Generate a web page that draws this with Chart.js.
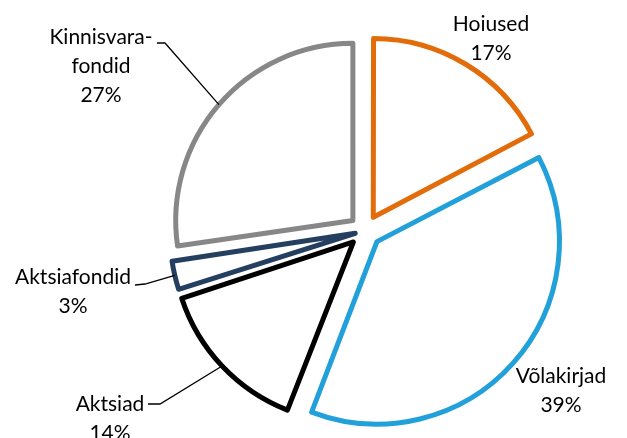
<!DOCTYPE html>
<html>
<head>
<meta charset="utf-8">
<script src="https://cdn.jsdelivr.net/npm/chart.js@4.4.0/dist/chart.umd.min.js"></script>
<style>
  html, body { margin: 0; padding: 0; background: #fff; }
</style>
</head>
<body>
<canvas id="pie" width="627" height="438"></canvas>
<script>
/* Data */
const categories = ['Hoiused', 'Võlakirjad', 'Aktsiad', 'Aktsiafondid', 'Kinnisvarafondid'];
const shares = [17.3, 38.6, 14.1, 2.7, 27.3];
// label text as printed (Kinnisvarafondid is hyphenated over two lines)
const labelLines = [['Hoiused'], ['Võlakirjad'], ['Aktsiad'], ['Aktsiafondid'], ['Kinnisvara-', 'fondid']];
const colors = ['#E36C0A', '#21A0DA', '#000000', '#243F60', '#878787'];

/* label layout: centre of first text line, and start of leader line if any */
const labelPos = [
    {x: 491, y: 24},
    {x: 561, y: 376},
    {x: 110, y: 404, lead: [148, 404, 160, 404]},
    {x: 73,  y: 277, lead: [135, 285, 145, 284]},
    {x: 101, y: 37,  lead: [157, 43, 165, 43]}
];
// explode distance in px per slice (the thin slice grows with offset in chart.js, so less)
const explode = [16, 16, 16, 10, 16];
const LINE_H = 29;

const total = shares.reduce((a, b) => a + b, 0);

/**
 * @description draws the outside labels and leader lines
 */
const outsideLabels = {
    id: 'outsideLabels',
    afterDatasetsDraw(chart) {
        const ctx = chart.ctx;
        const meta = chart.getDatasetMeta(0);
        ctx.save();
        ctx.font = '21px Lato';
        ctx.fillStyle = '#000';
        ctx.textAlign = 'center';
        ctx.textBaseline = 'middle';
        meta.data.forEach((el, i) => {
            const pos = labelPos[i];
            const lines = labelLines[i].concat([Math.round(shares[i] / total * 100) + '%']);
            lines.forEach((txt, k) => ctx.fillText(txt, pos.x, pos.y + k * LINE_H));

            if (pos.lead) {
                const p = el.getProps(['x', 'y', 'startAngle', 'endAngle', 'outerRadius', 'circumference'], true);
                const mid = (p.startAngle + p.endAngle) / 2;
                const t = el.options.offset / 4;
                const r = p.outerRadius + t * (1 - Math.sin(Math.min(Math.PI, p.circumference)));
                const ex = p.x + Math.cos(mid) * (t + r);
                const ey = p.y + Math.sin(mid) * (t + r);
                ctx.strokeStyle = '#000';
                ctx.lineWidth = 1.3;
                ctx.beginPath();
                ctx.moveTo(pos.lead[0], pos.lead[1]);
                ctx.lineTo(pos.lead[2], pos.lead[3]);
                ctx.lineTo(ex, ey);
                ctx.stroke();
            }
        });
        ctx.restore();
    }
};

let ctx = document.getElementById('pie');
let pie_chart = new Chart(ctx, {
    type: 'pie',
    data: {
        labels: categories,
        datasets: [{
            data: shares,
            backgroundColor: '#ffffff',
            borderColor: colors,
            borderWidth: 5,
            borderJoinStyle: 'round',
            offset: explode.map((d) => d * 4),
            hoverOffset: 0
        }]
    },
    options: {
        responsive: false,
        animation: false,
        devicePixelRatio: 1,
        radius: 177,
        layout: { padding: { left: 103, top: 24 } },
        plugins: {
            legend: { display: false },
            tooltip: { enabled: false }
        }
    },
    plugins: [outsideLabels]
});
</script>
</body>
</html>
